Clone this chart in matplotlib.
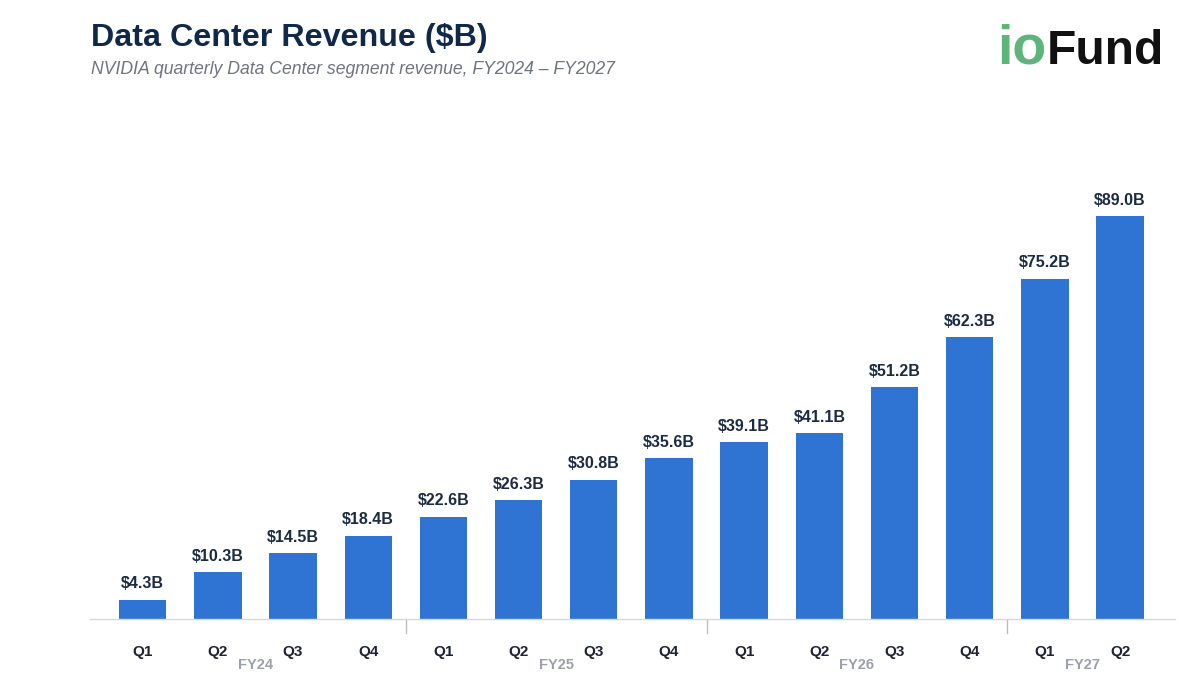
import matplotlib
matplotlib.use("Agg")
import matplotlib.pyplot as plt
from matplotlib.transforms import blended_transform_factory

plt.rcParams['font.family'] = ['Liberation Sans', 'DejaVu Sans']

quarters = ["Q1", "Q2", "Q3", "Q4", "Q1", "Q2", "Q3", "Q4",
            "Q1", "Q2", "Q3", "Q4", "Q1", "Q2"]
revenue = [4.3, 10.3, 14.5, 18.4, 22.6, 26.3, 30.8, 35.6,
           39.1, 41.1, 51.2, 62.3, 75.2, 89.0]
fiscal_years = ["FY24", "FY25", "FY26", "FY27"]
fy_quarter_count = [4, 4, 4, 2]

W, H = 1200, 686
fig = plt.figure(figsize=(W / 100, H / 100), dpi=100)
fig.patch.set_facecolor("white")

ax_left, ax_right = 90, 1175
ax_bottom, ax_top = 619, 180
ax = fig.add_axes([ax_left / W, 1 - ax_bottom / H,
                   (ax_right - ax_left) / W, (ax_bottom - ax_top) / H])

x = list(range(len(revenue)))
ax.bar(x, revenue, width=0.63, color="#2F74D2", zorder=2)
ax.set_xlim(-0.7, len(revenue) - 0.27)
ax.set_ylim(0, 97)

for xi, v in zip(x, revenue):
    ax.annotate(f"${v:.1f}B", (xi, v), xytext=(0, 6), textcoords="offset points",
                ha="center", va="bottom", fontsize=11.5, fontweight="bold",
                color="#1B2B44")

for s in ["top", "right", "left"]:
    ax.spines[s].set_visible(False)
ax.spines["bottom"].set_color("#D5D9DE")
ax.spines["bottom"].set_linewidth(1.0)
ax.set_yticks([])
ax.set_xticks(x)
ax.set_xticklabels(quarters, fontsize=11, fontweight="bold", color="#1E2233")
ax.tick_params(axis="x", length=0, pad=19)

trans = blended_transform_factory(ax.transData, ax.transAxes)
start = 0
for fy, n in zip(fiscal_years, fy_quarter_count):
    if start > 0:
        ax.plot([start - 0.5, start - 0.5], [0, -0.032], transform=trans,
                color="#B8BDC4", lw=1.0, clip_on=False)
    ax.text(start + (n - 1) / 2, -0.105, fy, transform=trans, ha="center",
            va="center", fontsize=10.5, fontweight="bold", color="#9CA0A8")
    start += n

fig.text(91 / W, 1 - 46 / H, "Data Center Revenue ($B)", fontsize=23.2,
         fontweight="bold", color="#10294A", ha="left", va="baseline")
fig.text(91 / W, 1 - 74 / H,
         "NVIDIA quarterly Data Center segment revenue, FY2024 \u2013 FY2027",
         fontsize=12.7, style="italic", color="#6E7480", ha="left", va="baseline")

fig.text(1046 / W, 1 - 64 / H, "io", fontsize=40, fontweight="bold",
         color="#5DB57C", ha="right", va="baseline")
fig.text(1047 / W, 1 - 64 / H, "Fund", fontsize=34.5, fontweight="bold",
         color="#111111", ha="left", va="baseline")

fig.savefig("out.png", dpi=100, facecolor="white")
